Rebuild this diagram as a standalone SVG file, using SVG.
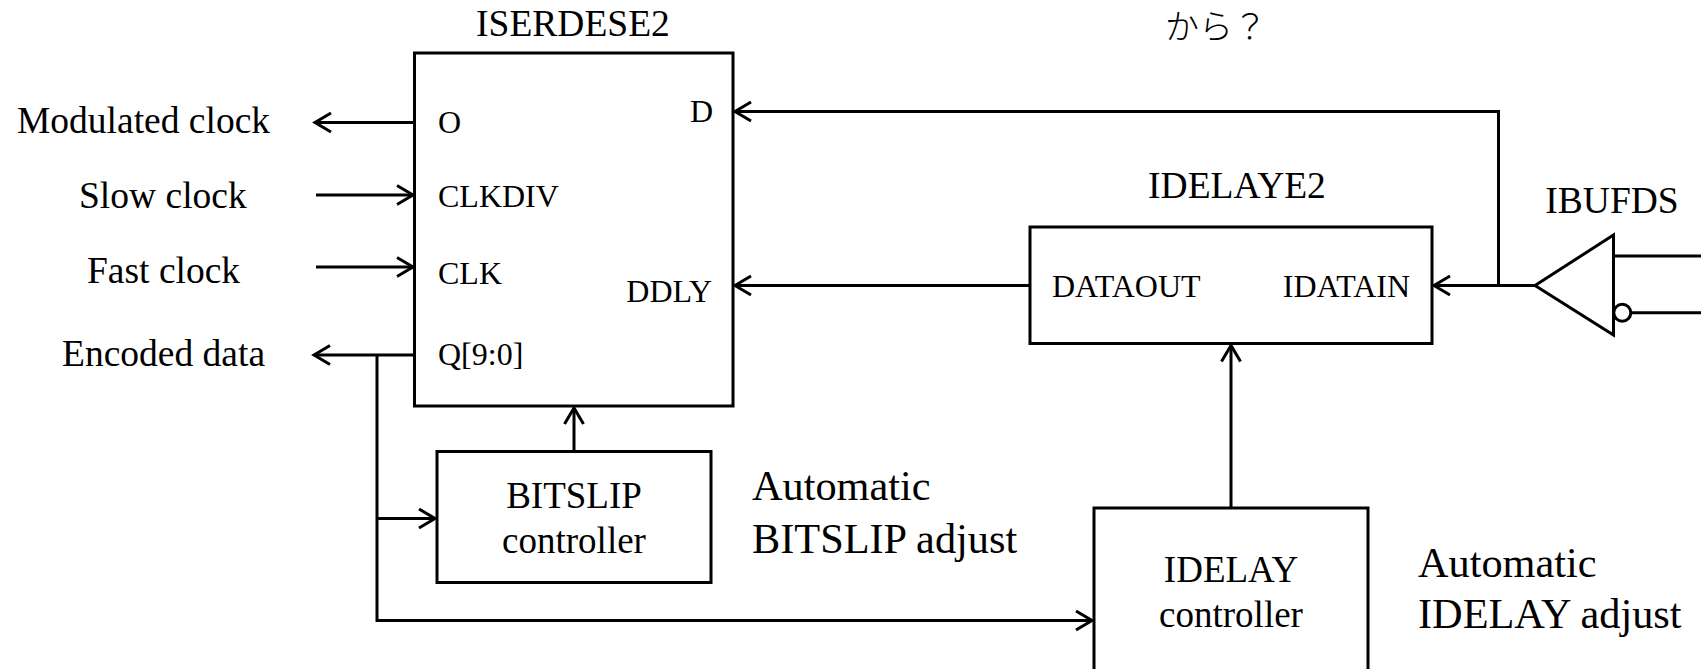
<svg xmlns="http://www.w3.org/2000/svg" width="1701" height="669" viewBox="0 0 1701 669">
<style>
  .bg{fill:#ffffff}
  .box{fill:#ffffff;stroke:#000;stroke-width:3}
  .wire{fill:none;stroke:#000;stroke-width:3}
  .t{font-family:"Liberation Serif","Times New Roman",serif;fill:#000}
  .lbl{font-size:37.5px}
  .inb{font-size:37px}
  .port{font-size:32px}
  .big{font-size:42.3px}
  .jp{font-family:"Noto Sans CJK JP","Noto Sans",sans-serif;font-size:34px;font-weight:300;fill:#000}
  .mid{text-anchor:middle}
  .end{text-anchor:end}
</style>
<defs>
  <marker id="arr" viewBox="-18 -11 20 22" refX="0" refY="0" markerWidth="20" markerHeight="22" markerUnits="userSpaceOnUse" orient="auto" overflow="visible">
    <path d="M -16 -9.5 L 0 0 L -16 9.5" fill="none" stroke="#000" stroke-width="3"/>
  </marker>
</defs>
<rect class="bg" x="0" y="0" width="1701" height="669"/>

<g id="connectors">
  <line class="wire" x1="415" y1="122.5" x2="315" y2="122.5" marker-end="url(#arr)"/>
  <line class="wire" x1="316" y1="195" x2="413" y2="195" marker-end="url(#arr)"/>
  <line class="wire" x1="316" y1="267" x2="413" y2="267" marker-end="url(#arr)"/>
  <line class="wire" x1="415" y1="355" x2="314" y2="355" marker-end="url(#arr)"/>
  <polyline class="wire" points="377,355 377,620.5 1092,620.5" marker-end="url(#arr)"/>
  <line class="wire" x1="377" y1="518.5" x2="435" y2="518.5" marker-end="url(#arr)"/>
  <line class="wire" x1="574" y1="451.5" x2="574" y2="408" marker-end="url(#arr)"/>
  <line class="wire" x1="1030" y1="285.5" x2="735" y2="285.5" marker-end="url(#arr)"/>
  <line class="wire" x1="1535" y1="285.5" x2="1434" y2="285.5" marker-end="url(#arr)"/>
  <polyline class="wire" points="1498.5,285.5 1498.5,111.5 735,111.5" marker-end="url(#arr)"/>
  <line class="wire" x1="1231" y1="508" x2="1231" y2="345.5" marker-end="url(#arr)"/>
</g>

<g id="iserdese2">
  <rect class="box" x="414.5" y="53" width="318.5" height="353"/>
  <text class="t lbl mid" x="573" y="36">ISERDESE2</text>
  <text class="t port" x="438" y="133">O</text>
  <text class="t port" x="438" y="207">CLKDIV</text>
  <text class="t port" x="438" y="284">CLK</text>
  <text class="t port" x="438" y="365">Q[9:0]</text>
  <text class="t port end" x="713" y="122">D</text>
  <text class="t port end" x="712" y="302">DDLY</text>
</g>

<g id="labels-left">
  <text class="t lbl" x="17" y="133">Modulated clock</text>
  <text class="t lbl" x="79" y="208">Slow clock</text>
  <text class="t lbl" x="87" y="283">Fast clock</text>
  <text class="t lbl" x="62" y="366">Encoded data</text>
</g>

<g id="bitslip-controller">
  <rect class="box" x="437" y="451.5" width="274" height="131"/>
  <text class="t inb mid" x="574" y="508">BITSLIP</text>
  <text class="t inb mid" x="574" y="553">controller</text>
</g>
<g id="bitslip-note">
  <text class="t big" x="752" y="500">Automatic</text>
  <text class="t big" x="752" y="553">BITSLIP adjust</text>
</g>

<g id="idelaye2">
  <rect class="box" x="1030" y="227" width="402" height="116.5"/>
  <text class="t lbl mid" x="1237" y="198">IDELAYE2</text>
  <text class="t port" x="1052" y="297">DATAOUT</text>
  <text class="t port end" x="1410" y="297">IDATAIN</text>
</g>

<g id="ibufds">
  <text class="t lbl mid" x="1612" y="213">IBUFDS</text>
  <polygon class="wire" points="1535,285.5 1613.5,235 1613.5,335" stroke-linejoin="miter"/>
  <line class="wire" x1="1613.5" y1="256" x2="1701" y2="256"/>
  <circle class="wire" cx="1622.3" cy="312.7" r="8.5"/>
  <line class="wire" x1="1630.8" y1="312.7" x2="1701" y2="312.7"/>
</g>

<g id="note-kara">
  <text class="jp mid" x="1216" y="39">から？</text>
</g>

<g id="idelay-controller">
  <rect class="box" x="1094" y="508" width="274" height="200"/>
  <text class="t inb mid" x="1231" y="582">IDELAY</text>
  <text class="t inb mid" x="1231" y="627">controller</text>
</g>
<g id="idelay-note">
  <text class="t big" x="1418" y="577">Automatic</text>
  <text class="t big" x="1418" y="628">IDELAY adjust</text>
</g>
</svg>
